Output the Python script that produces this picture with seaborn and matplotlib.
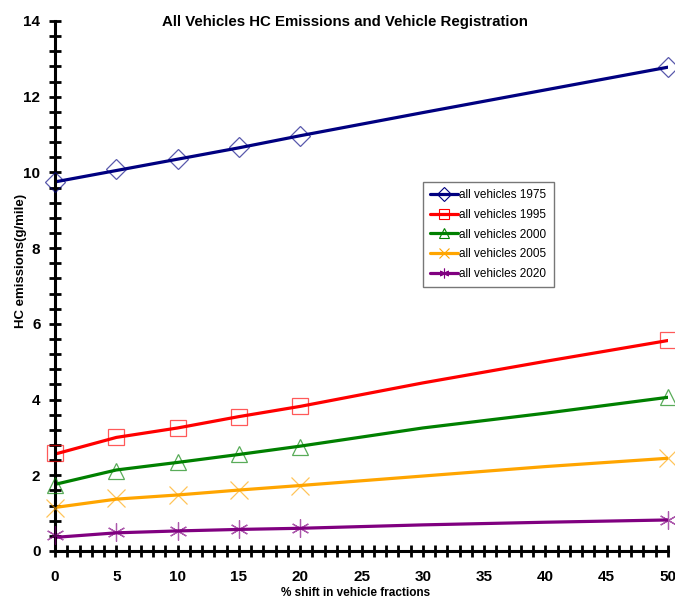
import numpy as np
import pandas as pd
import seaborn as sns
import matplotlib.pyplot as plt
from matplotlib.lines import Line2D
from matplotlib.ticker import MultipleLocator

sns.set_style("white")
plt.rcParams["font.family"] = ["Liberation Sans", "DejaVu Sans"]
plt.rcParams.update({
    "text.color": "black",
    "axes.labelcolor": "black",
    "xtick.color": "black",
    "ytick.color": "black",
})

# measured points (markers)
shift_pts = [0, 5, 10, 15, 20, 50]
hc_1975 = [9.76, 10.08, 10.36, 10.66, 10.97, 12.78]
hc_1995 = [2.59, 3.00, 3.25, 3.55, 3.84, 5.57]
hc_2000 = [1.75, 2.12, 2.34, 2.55, 2.76, 4.06]
hc_2005 = [1.13, 1.39, 1.49, 1.62, 1.73, 2.46]
hc_2020 = [0.42, 0.51, 0.54, 0.57, 0.61, 0.83]

# trend lines as drawn in the chart
shift_line = [0, 5, 10, 15, 20, 30, 40, 50]
tr_1975 = [9.75, 10.05, 10.35, 10.65, 10.97, 11.58, 12.18, 12.78]
tr_1995 = [2.56, 3.00, 3.25, 3.55, 3.82, 4.44, 5.01, 5.56]
tr_2000 = [1.76, 2.14, 2.34, 2.55, 2.77, 3.25, 3.64, 4.06]
tr_2005 = [1.15, 1.37, 1.48, 1.61, 1.73, 1.98, 2.23, 2.45]
tr_2020 = [0.36, 0.48, 0.53, 0.57, 0.60, 0.69, 0.76, 0.82]

labels = ["all vehicles 1975", "all vehicles 1995", "all vehicles 2000",
          "all vehicles 2005", "all vehicles 2020"]
colors = ["#000080", "#FF0000", "#008000", "#FFA500", "#800080"]
markers = ["D", "s", "^", "x", (6, 2, 0)]
msizes = [10, 12, 12, 13, 13]

pts = [hc_1975, hc_1995, hc_2000, hc_2005, hc_2020]
trends = [tr_1975, tr_1995, tr_2000, tr_2005, tr_2020]

fig = plt.figure(figsize=(6.75, 5.98), dpi=100)
ax = fig.add_axes([55 / 675, 1 - 551 / 598, 613 / 675, 530 / 598])

handles = []
for lab, col, mk, ms, p, t in zip(labels, colors, markers, msizes, pts, trends):
    sns.lineplot(x=shift_line, y=t, color=col, linewidth=2.3, ax=ax)
    ax.plot(shift_pts, p, linestyle="none", marker=mk, markersize=ms,
            markerfacecolor="none", markeredgecolor=col, markeredgewidth=0.9,
            alpha=0.65, clip_on=False, zorder=5)
    handles.append(Line2D([], [], color=col, linewidth=2.3, marker=mk,
                          markersize=7, markerfacecolor="none",
                          markeredgecolor=col, markeredgewidth=0.8))

ax.set_xlim(0, 50)
ax.set_ylim(0, 14)
ax.xaxis.set_major_locator(MultipleLocator(5))
ax.xaxis.set_minor_locator(MultipleLocator(1))
ax.yaxis.set_major_locator(MultipleLocator(2))
ax.yaxis.set_minor_locator(MultipleLocator(0.4))
for s in ["top", "right"]:
    ax.spines[s].set_visible(False)
for s in ["left", "bottom"]:
    ax.spines[s].set_linewidth(2.2)
    ax.spines[s].set_color("black")
ax.tick_params(which="both", bottom=True, left=True, direction="inout",
               length=9, width=2, color="black")
ax.tick_params(axis="x", which="major", labelsize=11, pad=9)
ax.tick_params(axis="y", which="major", labelsize=11, pad=6)
for tl in ax.get_xticklabels() + ax.get_yticklabels():
    tl.set_fontweight("bold")

ax.set_xlabel("% shift in vehicle fractions", fontsize=8.5, fontweight="bold")
ax.set_ylabel("HC emissions(g/mile)", fontsize=9.5, fontweight="bold")
ax.xaxis.set_label_coords(0.491, -0.068)
ax.yaxis.set_label_coords(-0.045, 0.547)

fig.text(345 / 675, 1 - 22 / 598,
         "All Vehicles HC Emissions and Vehicle Registration",
         ha="center", va="center", fontsize=10.8, fontweight="bold")

leg = ax.legend(handles, labels, loc="upper left",
                bbox_to_anchor=(0.600, 0.696), borderaxespad=0,
                fontsize=8.5, frameon=True, fancybox=False,
                edgecolor="#555555", handlelength=2.4, handletextpad=0.1,
                labelspacing=0.65, borderpad=0.6)
leg.get_frame().set_linewidth(1.0)

fig.savefig("out.png", dpi=100, facecolor="white")
